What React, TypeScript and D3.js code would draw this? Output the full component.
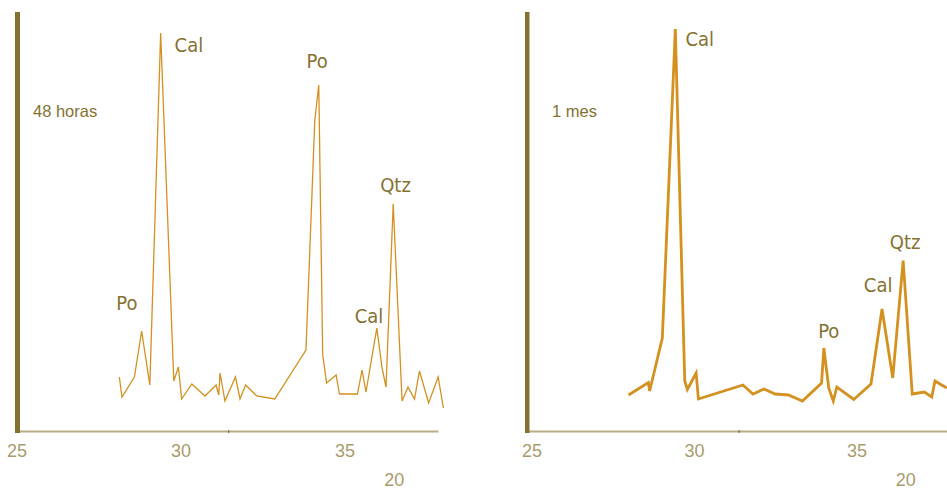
import { useEffect, useRef } from 'react'
import * as d3 from 'd3'

// 2θ positions and intensities
const hours48X = [28.12, 28.2, 28.58, 28.8, 29.05, 29.38, 29.78, 29.92, 30.02, 30.33, 30.73, 31.07, 31.15, 31.19, 31.34, 31.66, 31.8, 31.97, 32.31, 32.86, 33.81, 34.08, 34.2, 34.32, 34.44, 34.73, 34.83, 35.38, 35.52, 35.64, 35.97, 36.13, 36.25, 36.47, 36.74, 36.92, 37.12, 37.27, 37.55, 37.84, 38.0]
const hours48Y = [55, 35, 55, 101, 47, 399, 51, 65, 33, 48, 36, 47, 37, 59, 31, 55, 33, 47, 36, 33, 82, 312, 347, 77, 49, 57, 38, 38, 62, 40, 104, 64, 45, 228, 31, 45, 33, 61, 29, 55, 24]

const month1X = [27.97, 28.58, 28.62, 29.01, 29.41, 29.7, 29.78, 30.05, 30.12, 31.49, 31.8, 32.14, 32.48, 32.89, 33.32, 33.91, 33.98, 34.13, 34.27, 34.38, 34.9, 35.43, 35.77, 36.1, 36.42, 36.7, 37.07, 37.3, 37.4, 37.76]
const month1Y = [37, 49.5, 41, 94, 403, 51, 42.5, 59, 33, 47, 38, 43, 38, 37, 31, 49, 84, 44, 31, 45, 32.5, 48, 123, 54, 171.5, 38, 40, 35, 51, 44]

// phase labels: text, 2θ, intensity of the label baseline
const hours48Labels = ['Cal', 'Po', 'Qtz', 'Po', 'Cal']
const hours48LabelX = [30.24, 34.15, 36.54, 28.35, 35.73]
const hours48LabelY = [380, 364, 240, 122, 109]

const month1Labels = ['Cal', 'Qtz', 'Cal', 'Po']
const month1LabelX = [30.16, 36.48, 35.65, 34.13]
const month1LabelY = [386.5, 183, 140, 94]

const xTicks = [25, 30, 35]
const xTitle = '20'

const LINE = '#d4911f'
const OLIVE = '#847231'
const TAN = '#a99c6c'
const AXIS = '#b7ac83'

interface Panel {
  name: string
  xs: number[]
  ys: number[]
  labels: string[]
  labelX: number[]
  labelY: number[]
  x0: number
  x35: number
  barX: number
  barW: number
  nameX: number
  strokeW: number
}

const panels: Panel[] = [
  { name: '48 horas', xs: hours48X, ys: hours48Y, labels: hours48Labels, labelX: hours48LabelX, labelY: hours48LabelY, x0: 17, x35: 345, barX: 15, barW: 5, nameX: 33, strokeW: 1.3 },
  { name: '1 mes', xs: month1X, ys: month1Y, labels: month1Labels, labelX: month1LabelX, labelY: month1LabelY, x0: 532, x35: 857, barX: 525, barW: 4.5, nameX: 552, strokeW: 2.8 },
]

export default function App() {
  const svgRef = useRef<SVGSVGElement>(null)

  useEffect(() => {
    if (!svgRef.current) return
    const svg = d3.select(svgRef.current)
    svg.selectAll('*').remove()

    const yScale = d3.scaleLinear().domain([0, 420]).range([432, 12])
    const xMax = 37.85

    for (const p of panels) {
      const xScale = d3.scaleLinear().domain([25, 35]).range([p.x0, p.x35])
      const g = svg.append('g')
      const axisStart = p.barX + p.barW - 1
      const axisEnd = xScale(xMax)

      // baseline axis
      g.append('line')
        .attr('x1', axisStart).attr('x2', axisEnd)
        .attr('y1', yScale(0) - 0.5).attr('y2', yScale(0) - 0.5)
        .attr('stroke', AXIS).attr('stroke-width', 2)

      const mid = (axisStart + axisEnd) / 2
      g.append('line')
        .attr('x1', mid).attr('x2', mid)
        .attr('y1', yScale(0) - 2).attr('y2', yScale(0) + 1)
        .attr('stroke', '#6e6440').attr('stroke-width', 1)

      // intensity bar
      g.append('rect')
        .attr('x', p.barX).attr('y', yScale(420))
        .attr('width', p.barW).attr('height', yScale(0) - yScale(420) + 1)
        .attr('fill', OLIVE)

      // ticks
      for (const t of xTicks) {
        g.append('text')
          .attr('x', xScale(t)).attr('y', 457)
          .attr('text-anchor', 'middle')
          .attr('font-family', "'Liberation Sans', Arial, sans-serif")
          .attr('font-size', 18).attr('fill', TAN)
          .text(String(t))
      }
      g.append('text')
        .attr('x', xScale(36.5)).attr('y', 485.5)
        .attr('text-anchor', 'middle')
        .attr('font-family', "'Liberation Sans', Arial, sans-serif")
        .attr('font-size', 18).attr('fill', TAN)
        .text(xTitle)

      // pattern
      const pts = p.xs.map((x, i) => [x, p.ys[i]] as [number, number])
      const line = d3.line<[number, number]>()
        .x(d => xScale(d[0]))
        .y(d => yScale(d[1]))
      g.append('path')
        .datum(pts)
        .attr('fill', 'none')
        .attr('stroke', LINE)
        .attr('stroke-width', p.strokeW)
        .attr('stroke-linejoin', 'miter')
        .attr('d', line)

      // sample name
      g.append('text')
        .attr('x', p.nameX).attr('y', 117)
        .attr('font-family', "'Liberation Sans', Arial, sans-serif")
        .attr('font-size', 16.5).attr('font-weight', 500).attr('fill', OLIVE)
        .text(p.name)

      // phase labels
      p.labels.forEach((lab, i) => {
        g.append('text')
          .attr('x', xScale(p.labelX[i]))
          .attr('y', yScale(p.labelY[i]))
          .attr('text-anchor', 'middle')
          .attr('font-family', "'Liberation Sans Narrow', 'DejaVu Sans Condensed', 'Roboto', sans-serif")
          .attr('font-size', 20).attr('fill', OLIVE)
          .text(lab)
      })
    }
  }, [])

  return (
    <svg
      ref={svgRef}
      width={947}
      height={489}
      style={{ position: 'absolute', left: 0, top: 0, background: '#fff' }}
    />
  )
}
